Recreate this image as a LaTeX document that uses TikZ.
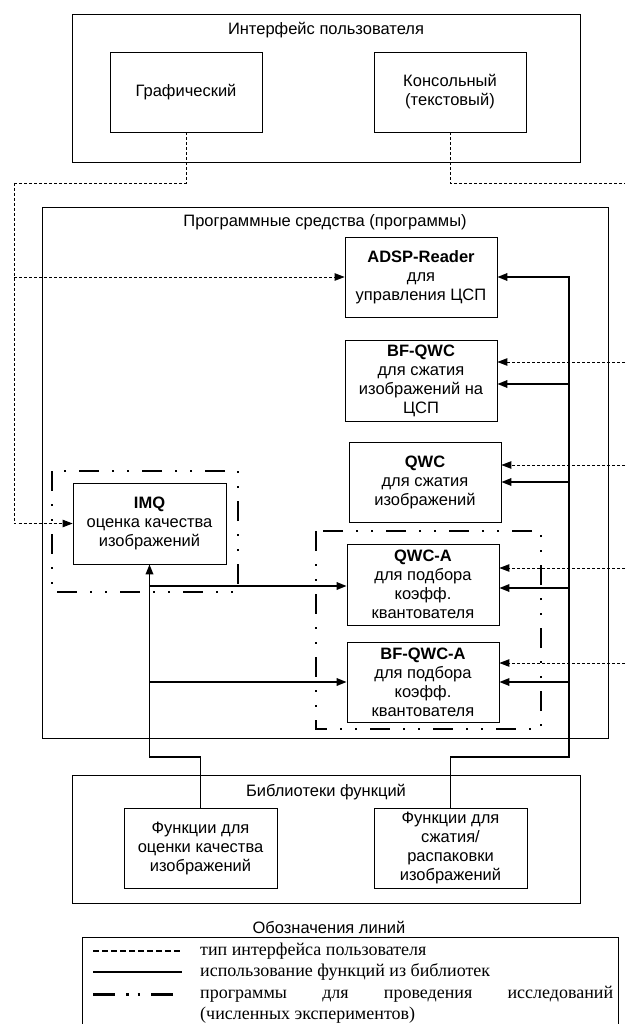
\documentclass[tikz,border=0pt]{standalone}
\usepackage{fontspec}
\setmainfont{Liberation Sans}
\newfontfamily\legendfont{Liberation Serif}
\usetikzlibrary{arrows.meta, positioning, calc}
\tikzstyle{box} = [rectangle, draw, line width=0.8pt, inner sep=0pt]
\tikzstyle{prg} = [box, minimum width=152pt, minimum height=80pt, align=center]
\tikzstyle{line} = [draw, line width=1.8pt, -{Triangle[length=10pt,width=7.5pt]}]
\tikzstyle{iface} = [draw, line width=0.9pt, dash pattern=on 3pt off 2pt]
\tikzstyle{ifarrow} = [iface, -{Triangle[length=10pt,width=7.5pt]}]
\tikzstyle{grp} = [draw, line width=2.6pt, dash pattern=on 20pt off 13pt on 2pt off 13pt on 2pt off 13pt]

\begin{document}
\begin{tikzpicture}[x=1pt, y=-1pt, font=\fontsize{16.5}{19}\selectfont]
    \useasboundingbox (0,0) rectangle (625,1024);
    %%% User interface:
    \begin{scope}
      \node[box, minimum width=508pt, minimum height=148pt] (ui) at (326,88) {};
      \node[below=8pt of ui.north, inner sep=0pt] (uiT) {Интерфейс пользователя};
      \node[prg] (gr) at (186,92) {Графический};
      \node[prg] (con) at (450,92) {Консольный\\(текстовый)};
    \end{scope}
    %%% Programs:
    \begin{scope}
      \node[box, minimum width=566pt, minimum height=531pt] (prog) at (325,472.5) {};
      \node[below=8pt of prog.north, inner sep=0pt] (progT) {Программные средства (программы)};
      \node[prg] (adsp) at (421,277) {\textbf{ADSP-Reader}\\для\\управления ЦСП};
      \node[prg, minimum height=81pt] (bfqwc) at (421,381) {\textbf{BF-QWC}\\для сжатия\\изображений на\\ЦСП};
      \node[prg] (qwc) at (425,482) {\textbf{QWC}\\для сжатия\\изображений};
      \node[prg, minimum width=153pt, minimum height=81pt] (imq) at (149.5,523.5) {\textbf{IMQ}\\оценка качества\\изображений};
      \node[prg, minimum height=81pt] (qwca) at (423,584.5) {\textbf{QWC-A}\\для подбора\\коэфф.\\квантователя};
      \node[prg] (bfqwca) at (423,682) {\textbf{BF-QWC-A}\\для подбора\\коэфф.\\квантователя};
      \draw[grp] (52,471) rectangle (238,592);
      \draw[grp] (316,531) rectangle (541,729);
    \end{scope}
    %%% Libraries:
    \begin{scope}
      \node[box, minimum width=508pt, minimum height=128pt] (lib) at (326,839) {};
      \node[below=9pt of lib.north, inner sep=0pt] (libT) {Библиотеки функций};
      \node[prg, minimum width=153pt] (f1) at (200.5,848) {Функции для\\оценки качества\\изображений};
      \node[prg, minimum width=153pt] (f2) at (450.5,848) {Функции для\\сжатия/\\распаковки\\изображений};
    \end{scope}
    %%% Interface links:
    \coordinate (dl) at (14,183);
    \coordinate (dr) at (625,183);
    \coordinate (r1) at (625,362);
    \coordinate (r2) at (625,465);
    \coordinate (r3) at (625,568);
    \coordinate (r4) at (625,663);
    \draw[iface] (gr.south) |- (dl);
    \draw[ifarrow] (dl) |- (imq.west);
    \draw[ifarrow] (dl |- adsp.west) -- (adsp.west);
    \draw[iface] (con.south) |- (dr);
    \draw[ifarrow] (r1) -- (r1 -| bfqwc.east);
    \draw[ifarrow] (r2) -- (r2 -| qwc.east);
    \draw[ifarrow] (r3) -- (r3 -| qwca.east);
    \draw[ifarrow] (r4) -- (r4 -| bfqwca.east);
    %%% Library links:
    \coordinate (bR) at (569,757);
    \coordinate (bL) at (149.5,757);
    \coordinate (t1) at (569,384);
    \coordinate (t2) at (569,482);
    \coordinate (t3) at (569,588);
    \coordinate (t4) at (569,682);
    \coordinate (a1) at (149.5,586);
    \coordinate (a2) at (149.5,682);
    \path[line] (f2.north) |- (bR) |- (adsp.east);
    \path[line] (t1) -- (t1 -| bfqwc.east);
    \path[line] (t2) -- (t2 -| qwc.east);
    \path[line] (t3) -- (t3 -| qwca.east);
    \path[line] (t4) -- (t4 -| bfqwca.east);
    \path[line] (f1.north) |- (bL) -- (imq.south);
    \path[line] (a1) -- (a1 -| qwca.west);
    \path[line] (a2) -- (a2 -| bfqwca.west);
    %%% Legend:
    \node (legT) at (329,927) {Обозначения линий};
    \draw[line width=0.8pt] (82,1024) |- (618,937) -- (618,1024);
    \begin{scope}[font=\legendfont\fontsize{18}{21}\selectfont]
      \draw[line width=2pt, dash pattern=on 6pt off 3pt] (93,951) -- (182,951);
      \draw[line width=1.5pt] (93,972) -- (182,972);
      \draw[line width=3pt, dash pattern=on 22pt off 11pt on 2.5pt off 9pt on 2.5pt off 11pt] (93,994) -- (182,994);
      \node[anchor=west, inner sep=0pt] (l1) at (200,951) {тип интерфейса пользователя};
      \node[anchor=west, inner sep=0pt] (l2) at (200,972) {использование функций из библиотек};
      \node[anchor=west, inner sep=0pt] (l3) at (200,994) {\makebox[413pt][s]{программы для проведения исследований}};
      \node[anchor=west, inner sep=0pt] (l4) at (200,1015) {(численных экспериментов)};
    \end{scope}
\end{tikzpicture}
\end{document}
